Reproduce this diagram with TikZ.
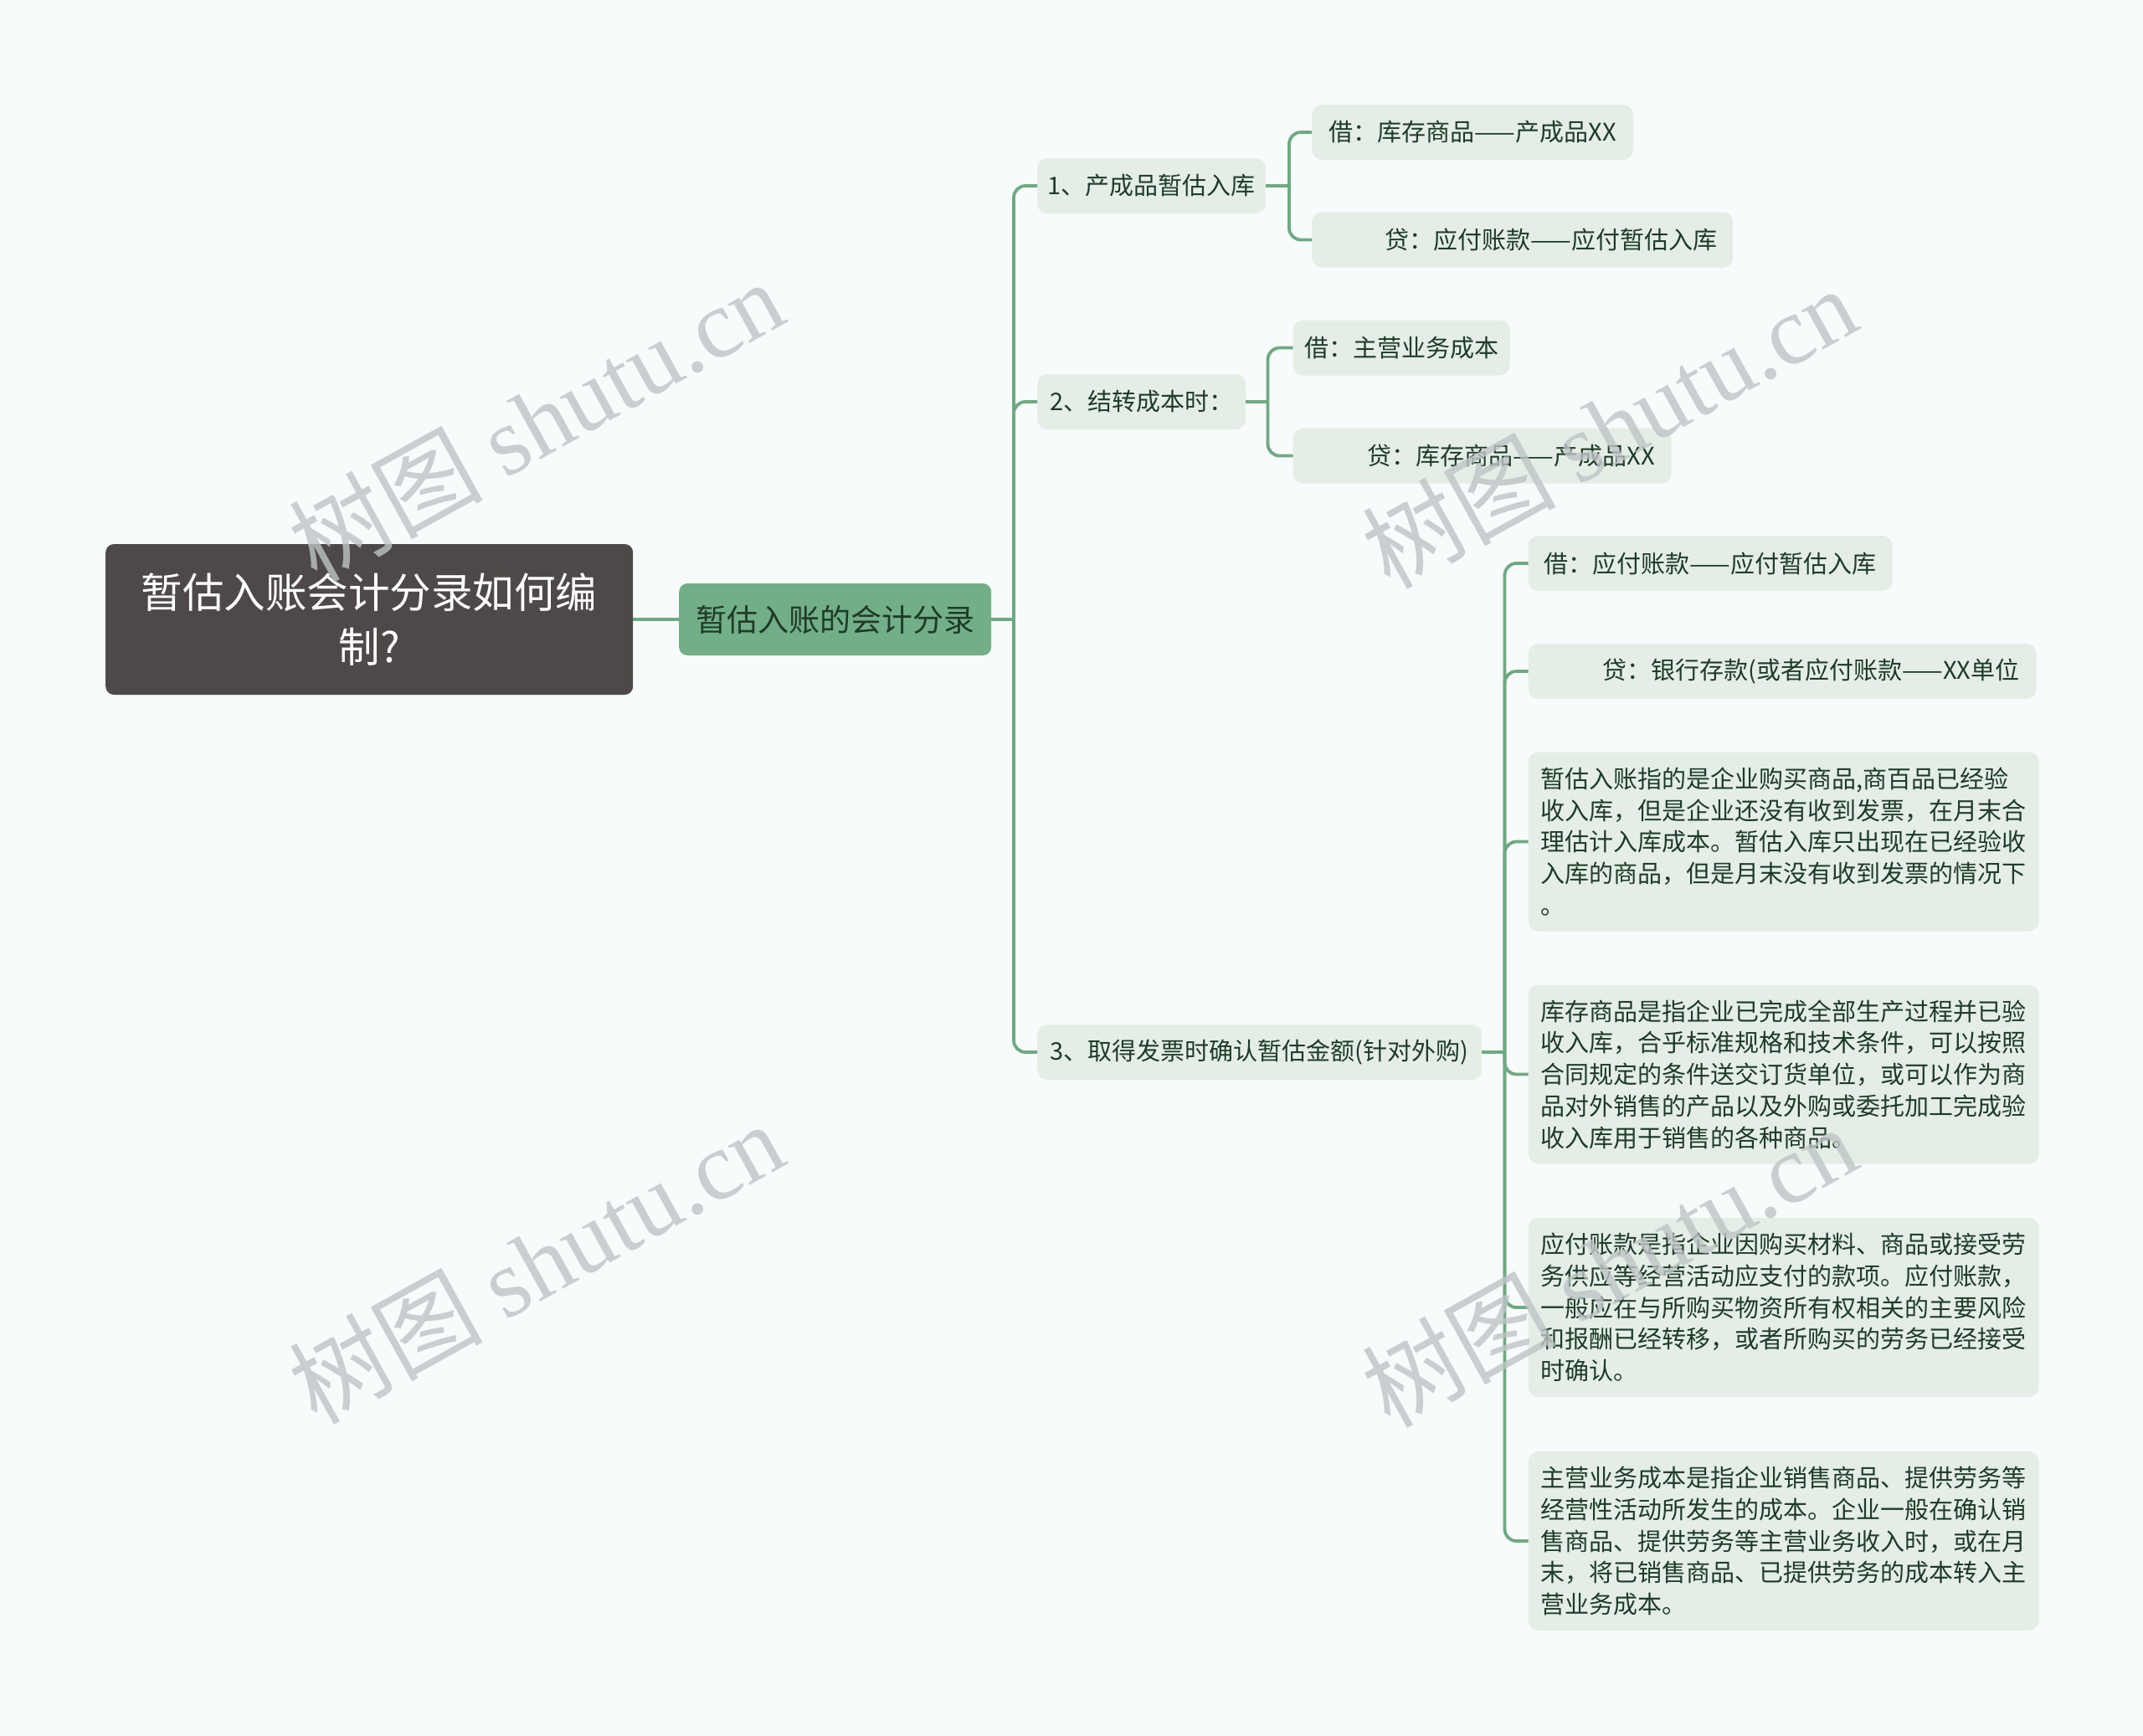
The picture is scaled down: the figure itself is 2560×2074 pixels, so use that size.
\documentclass[tikz,border=0pt]{standalone}
\usepackage{fontspec}
\setmainfont{Noto Sans CJK SC}
\newfontfamily\wmserif{Liberation Serif}
\definecolor{bg}{HTML}{F8FBFB}
\definecolor{rootfill}{HTML}{4E4948}
\definecolor{mainfill}{HTML}{72AF88}
\definecolor{leaffill}{HTML}{E4EEE6}
\definecolor{linec}{HTML}{6EA982}
\definecolor{leaftext}{HTML}{1F3B28}
\definecolor{wm}{HTML}{BEC4C6}
\tikzset{
  conn/.style={draw=linec, line width=3.8pt, rounded corners=14pt},
  rootbox/.style={fill=rootfill, rounded corners=10pt, text=white, anchor=west, inner sep=0pt, align=center, font=\fontsize{49.5}{65}\selectfont},
  mainbox/.style={fill=mainfill, rounded corners=10pt, text=leaftext, anchor=west, inner sep=0pt, font=\fontsize{37}{44}\selectfont},
  subbox/.style={fill=leaffill, rounded corners=12pt, text=leaftext, anchor=west, inner sep=0pt, minimum height=66pt, font=\fontsize{29}{37.8}\selectfont},
  parabox/.style={fill=leaffill, rounded corners=12pt, text=leaftext, anchor=west, inner xsep=15pt, inner ysep=0pt, text width=580pt, align=left, minimum height=214pt, font=\fontsize{29}{37.8}\selectfont},
  wmark/.style={text=wm, opacity=0.8, rotate=29, inner sep=0pt, font=\fontsize{116}{116}\selectfont}
}
\begin{document}
\begin{tikzpicture}[x=1pt,y=-1pt]
\fill[bg] (0,0) rectangle (2560,2074);
\useasboundingbox (0,0) rectangle (2560,2074);

% nodes
\node[rootbox, minimum width=630pt, minimum height=180pt] (root) at (126,740) {暂估入账会计分录如何编\\制?};
\node[mainbox, minimum width=373pt, minimum height=86pt] (main) at (811,740) {暂估入账的会计分录};

\node[subbox, minimum width=273pt] (n1) at (1239,222) {1、产成品暂估入库};
\node[subbox, minimum width=249pt] (n2) at (1239,480) {2、结转成本时：};
\node[subbox, minimum width=531pt] (n3) at (1239,1257) {3、取得发票时确认暂估金额(针对外购)};

\node[subbox, minimum width=384pt] (l11) at (1567,158) {借：库存商品——产成品XX};
\node[subbox, minimum width=503pt] (l12) at (1567,286.5) {\hspace*{69pt}贷：应付账款——应付暂估入库};
\node[subbox, minimum width=259pt] (l21) at (1544.5,415.5) {借：主营业务成本};
\node[subbox, minimum width=452pt] (l22) at (1544.5,544.5) {\hspace*{69pt}贷：库存商品——产成品XX};
\node[subbox, minimum width=435pt] (l31) at (1825.5,673) {借：应付账款——应付暂估入库};
\node[subbox, minimum width=607pt] (l32) at (1825.5,802) {\hspace*{69pt}贷：银行存款(或者应付账款——XX单位};

\node[parabox] (p1) at (1825.5,1005.5) {暂估入账指的是企业购买商品,商百品已经验\\收入库，但是企业还没有收到发票，在月末合\\理估计入库成本。暂估入库只出现在已经验收\\入库的商品，但是月末没有收到发票的情况下\\。};
\node[parabox] (p2) at (1825.5,1283.5) {库存商品是指企业已完成全部生产过程并已验\\收入库，合乎标准规格和技术条件，可以按照\\合同规定的条件送交订货单位，或可以作为商\\品对外销售的产品以及外购或委托加工完成验\\收入库用于销售的各种商品。};
\node[parabox] (p3) at (1825.5,1562) {应付账款是指企业因购买材料、商品或接受劳\\务供应等经营活动应支付的款项。应付账款，\\一般应在与所购买物资所有权相关的主要风险\\和报酬已经转移，或者所购买的劳务已经接受\\时确认。};
\node[parabox] (p4) at (1825.5,1841) {主营业务成本是指企业销售商品、提供劳务等\\经营性活动所发生的成本。企业一般在确认销\\售商品、提供劳务等主营业务收入时，或在月\\末，将已销售商品、已提供劳务的成本转入主\\营业务成本。};

% junctions
\coordinate (j0) at (1211,740);
\coordinate (j1) at (1540,222);
\coordinate (j2) at (1514.5,480);
\coordinate (j3) at (1797.5,1257);

% connectors
\draw[conn] (root.east) -- (main.west);
\draw[conn] (main.east) -- (j0);
\foreach \c in {n1,n2,n3} \draw[conn] (j0) |- (\c.west);
\draw[conn] (n1.east) -- (j1);
\foreach \c in {l11,l12} \draw[conn] (j1) |- (\c.west);
\draw[conn] (n2.east) -- (j2);
\foreach \c in {l21,l22} \draw[conn] (j2) |- (\c.west);
\draw[conn] (n3.east) -- (j3);
\foreach \c in {l31,l32,p1,p2,p3,p4} \draw[conn] (j3) |- (\c.west);

% watermarks
\node[wmark] (wm1) at (640,502) {树图 {\wmserif shutu.cn}};
\node[wmark] (wm2) at (1922,510) {树图 {\wmserif shutu.cn}};
\node[wmark] (wm3) at (640,1508) {树图 {\wmserif shutu.cn}};
\node[wmark] (wm4) at (1922,1512) {树图 {\wmserif shutu.cn}};
\end{tikzpicture}
\end{document}
